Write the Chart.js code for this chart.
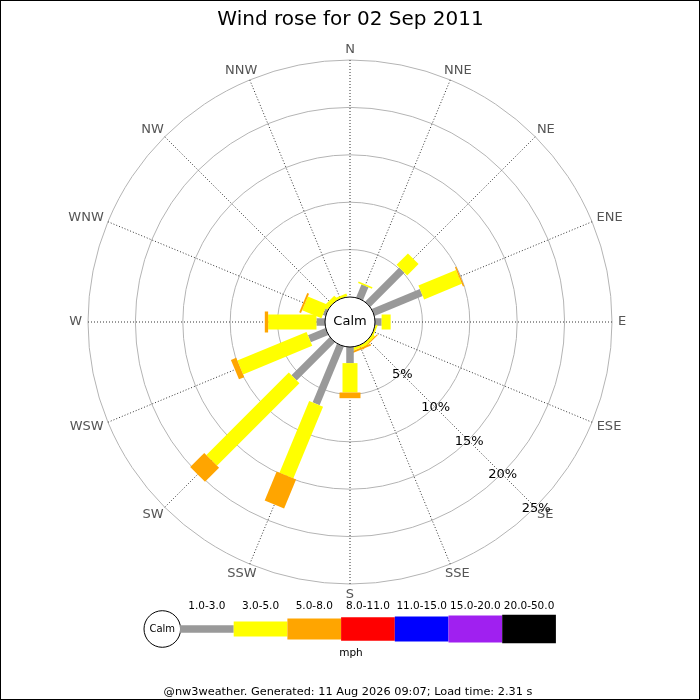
<!DOCTYPE html>
<html>
<head>
<meta charset="utf-8">
<style>
  html, body { margin: 0; padding: 0; background: #fff; }
  #wrap { width: 700px; height: 700px; }
</style>
<script src="https://cdn.jsdelivr.net/npm/chart.js@4/dist/chart.umd.min.js"></script>
</head>
<body>
<div id="wrap"><canvas id="c" width="700" height="700"></canvas></div>
<script>
// ---- data ----
const directions = ['N','NNE','NE','ENE','E','ESE','SE','SSE','S','SSW','SW','WSW','W','WNW','NW','NNW'];
const speedBins = ['1.0-3.0','3.0-5.0','5.0-8.0','8.0-11.0','11.0-15.0','15.0-20.0','20.0-50.0'];
const ringTicks = [5, 10, 15, 20, 25];
const ringTickLabels = ['5%', '10%', '15%', '20%', '25%'];
// percentage of time per direction and speed bin
const bin1to3   = [0, 1.5, 5.1, 5.5, 0.7, 0, 0, 0, 1.7, 6.7, 5.7, 2.0, 0.9, 0.3, 0, 0];
const bin3to5   = [0, 0.15, 1.7, 4.3, 0.95, 0.2, 0.3, 0.3, 3.1, 8.2, 12.3, 7.9, 5.1, 2.2, 0.5, 0.3];
const bin5to8   = [0, 0, 0, 0.15, 0, 0, 0.1, 0.2, 0.6, 3.3, 2.1, 0.6, 0.35, 0.2, 0, 0];
const bin8to11  = [0, 0, 0, 0, 0, 0, 0, 0, 0, 0, 0, 0, 0, 0, 0, 0];
const bin11to15 = [0, 0, 0, 0, 0, 0, 0, 0, 0, 0, 0, 0, 0, 0, 0, 0];
const bin15to20 = [0, 0, 0, 0, 0, 0, 0, 0, 0, 0, 0, 0, 0, 0, 0, 0];
const bin20to50 = [0, 0, 0, 0, 0, 0, 0, 0, 0, 0, 0, 0, 0, 0, 0, 0];
const titleText = 'Wind rose for 02 Sep 2011';
const unitText = 'mph';
const calmText = 'Calm';
const footerText = '@nw3weather. Generated: 11 Aug 2026 09:07; Load time: 2.31 s';

// ---- styles ----
const binColors = ['#999999', '#ffff00', '#ffa500', '#ff0000', '#0000ff', '#a020f0', '#000000'];
const binWidths = [7.5, 15, 21, 23.5, 25, 27, 28.5];
const FONT = '"DejaVu Sans", sans-serif';
const calmFrac = 25 / 262;
const scaleMax = 25;
const scaleMin = -scaleMax * calmFrac / (1 - calmFrac);

const binData = [bin1to3, bin3to5, bin5to8, bin8to11, bin11to15, bin15to20, bin20to50];

const rosePlugin = {
  id: 'rose',
  afterDatasetsDraw(chart) {
    const ctx = chart.ctx;
    const scale = chart.scales.r;
    ctx.save();
    ctx.lineCap = 'butt';
    for (let i = 0; i < directions.length; i++) {
      let cum = 0;
      chart.data.datasets.forEach((ds, b) => {
        const v = ds.data[i];
        if (v > 0) {
          const p0 = scale.getPointPositionForValue(i, cum);
          const p1 = scale.getPointPositionForValue(i, cum + v);
          ctx.beginPath();
          ctx.strokeStyle = binColors[b];
          ctx.lineWidth = binWidths[b];
          ctx.moveTo(p0.x, p0.y);
          ctx.lineTo(p1.x, p1.y);
          ctx.stroke();
        }
        cum += v;
      });
    }
    // calm circle
    const rc = scale.getDistanceFromCenterForValue(0);
    ctx.beginPath();
    ctx.arc(scale.xCenter, scale.yCenter, rc, 0, Math.PI * 2);
    ctx.fillStyle = '#fff';
    ctx.fill();
    ctx.lineWidth = 1;
    ctx.strokeStyle = '#000';
    ctx.stroke();
    ctx.fillStyle = '#000';
    ctx.font = '13px ' + FONT;
    ctx.textAlign = 'center';
    ctx.textBaseline = 'middle';
    ctx.fillText(calmText, scale.xCenter, scale.yCenter);

    // compass labels
    ctx.fillStyle = '#555';
    ctx.font = '13px ' + FONT;
    directions.forEach((d, i) => {
      const p = scale.getPointPosition(i, scale.drawingArea);
      const a = scale.getIndexAngle(i);
      const w = ctx.measureText(d).width;
      const x = p.x + (6 + w / 2) * Math.sin(a);
      const y = p.y - 10.5 * Math.cos(a);
      ctx.fillText(d, x, y);
    });
    // ring labels along SE
    const seIdx = directions.indexOf('SE');
    ctx.fillStyle = '#000';
    ringTicks.forEach((v, k) => {
      const p = scale.getPointPositionForValue(seIdx, v);
      ctx.fillText(ringTickLabels[k], p.x + 1, p.y + 1);
    });
    ctx.restore();
  },
  afterDraw(chart) {
    const ctx = chart.ctx;
    ctx.save();
    // title
    ctx.fillStyle = '#000';
    ctx.font = '20px ' + FONT;
    ctx.textAlign = 'center';
    ctx.textBaseline = 'alphabetic';
    ctx.fillText(titleText, 350.5, 25);
    ctx.textBaseline = 'middle';

    // legend
    const lx = 180, segW = 53.7, cy = 629;
    ctx.beginPath();
    ctx.arc(162.3, cy, 18.3, 0, Math.PI * 2);
    ctx.fillStyle = '#fff';
    ctx.fill();
    ctx.lineWidth = 1;
    ctx.strokeStyle = '#000';
    ctx.stroke();
    ctx.fillStyle = '#000';
    ctx.font = '10px ' + FONT;
    ctx.fillText(calmText, 162.3, cy + 0.5);
    speedBins.forEach((lab, b) => {
      const x0 = lx + b * segW;
      ctx.fillStyle = binColors[b];
      ctx.fillRect(x0, cy - binWidths[b] / 2, segW, binWidths[b]);
      ctx.fillStyle = '#000';
      ctx.font = '10.5px ' + FONT;
      ctx.fillText(lab, x0 + segW / 2, 606.5);
    });
    ctx.font = '10.5px ' + FONT;
    ctx.fillText(unitText, 351, 653.5);

    // footer
    ctx.font = '11.3px ' + FONT;
    ctx.fillText(footerText, 348, 692.5);

    // frame
    ctx.strokeStyle = '#000';
    ctx.lineWidth = 1;
    ctx.strokeRect(0.5, 0.5, 699, 699);
    ctx.restore();
  }
};

const datasets = binData.map((arr, b) => ({
  label: speedBins[b],
  data: arr,
  borderWidth: 0,
  borderColor: 'rgba(0,0,0,0)',
  backgroundColor: 'rgba(0,0,0,0)',
  pointRadius: 0,
  pointHitRadius: 0,
  fill: false
}));

new Chart(document.getElementById('c'), {
  type: 'radar',
  data: { labels: directions, datasets },
  options: {
    responsive: false,
    animation: false,
    devicePixelRatio: 1,
    layout: { padding: { left: 88, right: 88, top: 60, bottom: 116 } },
    plugins: { legend: { display: false }, title: { display: false }, tooltip: { enabled: false } },
    scales: {
      r: {
        min: scaleMin,
        max: scaleMax,
        startAngle: 0,
        afterBuildTicks(scale) {
          scale.ticks = ringTicks.map(v => ({ value: v }));
        },
        ticks: { display: false },
        pointLabels: { display: false },
        grid: { circular: true, color: '#b4b4b4', lineWidth: 1 },
        angleLines: { display: true, color: '#333', lineWidth: 1, borderDash: [1, 2] }
      }
    }
  },
  plugins: [rosePlugin]
});
</script>
</body>
</html>
